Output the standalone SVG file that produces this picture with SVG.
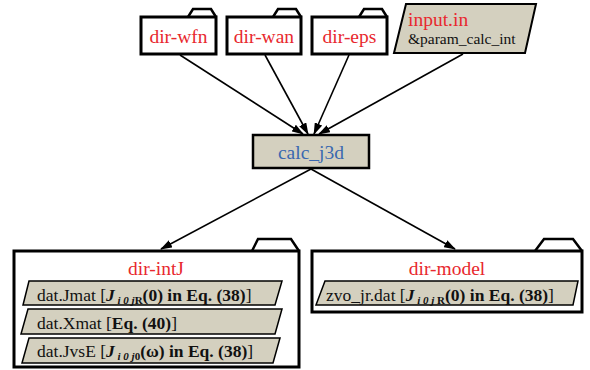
<svg xmlns="http://www.w3.org/2000/svg" width="590" height="370" viewBox="0 0 590 370">
<defs>
<marker id="ah" markerWidth="12" markerHeight="8" refX="11" refY="4" orient="auto" markerUnits="userSpaceOnUse">
<path d="M0,0 L12,4 L0,8 Z" fill="#000"/>
</marker>
<style>
.folder{fill:#fff;stroke:#000;stroke-width:3;stroke-linejoin:miter}
.tab{fill:#fff;stroke:#000;stroke-width:2.5}
.para{fill:#d4d0bf;stroke:#000;stroke-width:1.5}
.red{fill:#e8282e}
.blue{fill:#3a68b0}
.b{font-weight:bold}
.bi{font-weight:bold;font-style:italic}
.sub{font-weight:bold;font-style:italic}
.conn line{stroke:#000;stroke-width:1.6;marker-end:url(#ah)}
</style>
</defs>
<g class="conn" id="connectors">
<line x1="180" y1="55" x2="303" y2="134"/>
<line x1="265" y1="55" x2="308" y2="134"/>
<line x1="349" y1="55" x2="314" y2="134"/>
<line x1="463" y1="54" x2="319" y2="134"/>
<line x1="311" y1="169" x2="161" y2="249"/>
<line x1="311" y1="169" x2="455" y2="249"/>
</g>
<g id="dir-wfn">
<path class="tab" d="M188,17 L193,9 H211 L216,17"/>
<rect class="folder" x="141" y="17" width="75" height="37"/>
<text class="red" x="178.5" y="43" text-anchor="middle" font-family="Liberation Serif, serif" font-size="19.5">dir-wfn</text>
</g>
<g id="dir-wan">
<path class="tab" d="M273,17 L278,9 H296 L301,17"/>
<rect class="folder" x="227" y="17" width="74" height="37"/>
<text class="red" x="264" y="43" text-anchor="middle" font-family="Liberation Serif, serif" font-size="19.5">dir-wan</text>
</g>
<g id="dir-eps">
<path class="tab" d="M359,17 L364,9 H382 L387,17"/>
<rect class="folder" x="312" y="17" width="75" height="37"/>
<text class="red" x="349.5" y="43" text-anchor="middle" font-family="Liberation Serif, serif" font-size="19.5">dir-eps</text>
</g>
<g id="input-in">
<polygon points="406,4 536,4 525,53 394,53" fill="#d4d0bf" stroke="#000" stroke-width="2"/>
<text class="red" x="408" y="26" font-family="Liberation Serif, serif" font-size="19.5">input.in</text>
<text x="408" y="44" fill="#111" font-family="Liberation Serif, serif" font-size="15.5">&amp;param_calc_int</text>
</g>
<g id="calc_j3d">
<rect x="253" y="135" width="116" height="33" fill="#d4d0bf" stroke="#000" stroke-width="2.5"/>
<text class="blue" x="311" y="159" text-anchor="middle" font-family="Liberation Serif, serif" font-size="19.5">calc_j3d</text>
</g>
<g id="dir-intJ">
<path class="tab" d="M252,251 L258,239 H291 L299,251"/>
<rect class="folder" x="14" y="251" width="285" height="116"/>
<text class="red" x="156" y="275" text-anchor="middle" font-family="Liberation Serif, serif" font-size="19.5">dir-intJ</text>
<polygon class="para" points="29,281 282,281 275,305 23,305"/>
<text x="37" y="301" fill="#111" font-family="Liberation Serif, serif" font-size="17.5">dat.Jmat [<tspan class="bi">J</tspan><tspan class="sub" font-size="11" dy="3"> i 0 j</tspan><tspan class="b" font-size="11">R</tspan><tspan class="b" dy="-3">(0) in Eq. (38)</tspan>]</text>
<polygon class="para" points="28,309 282,309 275,334 21,334"/>
<text x="37" y="329" fill="#111" font-family="Liberation Serif, serif" font-size="17.5">dat.Xmat [<tspan class="b">Eq. (40)</tspan>]</text>
<polygon class="para" points="29,338 280,338 273,363 22,363"/>
<text x="37" y="357" fill="#111" font-family="Liberation Serif, serif" font-size="17.5">dat.JvsE [<tspan class="bi">J</tspan><tspan class="sub" font-size="11" dy="3"> i 0 j</tspan><tspan class="b" font-size="11">0</tspan><tspan class="b" dy="-3">(ω) in Eq. (38)</tspan>]</text>
</g>
<g id="dir-model">
<path class="tab" d="M535,251 L544,239 H573 L582,251"/>
<rect class="folder" x="312" y="251" width="270" height="61"/>
<text class="red" x="447" y="275" text-anchor="middle" font-family="Liberation Serif, serif" font-size="19.5">dir-model</text>
<polygon class="para" points="325,281 578,281 573,305 316,305"/>
<text x="326" y="301" fill="#111" font-family="Liberation Serif, serif" font-size="17.5">zvo_jr.dat [<tspan class="bi">J</tspan><tspan class="sub" font-size="11" dy="3"> i 0 j </tspan><tspan class="b" font-size="11">R</tspan><tspan class="b" dy="-3">(0) in Eq. (38)</tspan>]</text>
</g>
</svg>
